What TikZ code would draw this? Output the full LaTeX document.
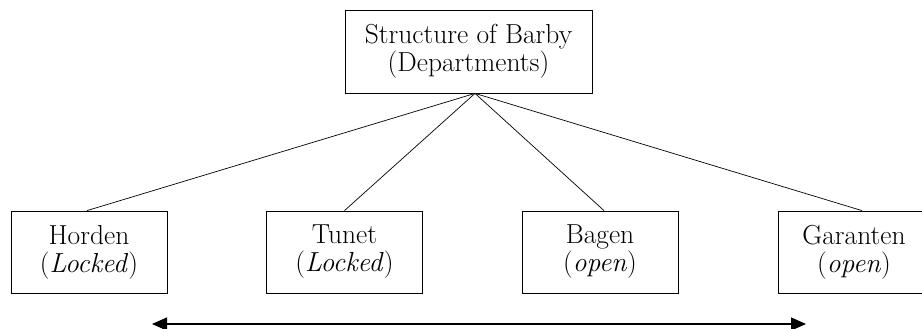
\documentclass[tikz,border=0pt]{standalone}
\usetikzlibrary{calc,arrows.meta}
\begin{document}
\begin{tikzpicture}[x=1pt,y=-1pt,
  box/.style={draw,line width=0.8pt,minimum height=82pt,inner sep=0pt,align=center,
    font=\fontsize{27.5}{28}\selectfont},
  bbox/.style={box,minimum width=156pt},
  link/.style={line width=0.7pt}]
\useasboundingbox (0,0) rectangle (922,329);
\node[box,minimum width=247pt,minimum height=83pt] (top) at (468.5,51.5) {Structure of Barby\\(Departments)};
\node[bbox] (h) at (89,252) {Horden\\(\textit{Locked})};
\node[bbox] (t) at (344.5,252) {Tunet\\(\textit{Locked})};
\node[bbox] (b) at (600,252) {Bagen\\(\textit{open})};
\node[bbox,minimum width=170pt] (g) at (863,252) {\hspace*{-18pt}Garanten\\\hspace*{-18pt}(\textit{open})};
\coordinate (apex) at ($(top.south)+(6.5,0)$);
\draw[link] (apex) -- ($(h.north)+(-2,0)$);
\draw[link] (apex) -- (t.north);
\draw[link] (apex) -- ($(b.north)+(4,0)$);
\draw[link] (apex) -- ($(g.north)+(-1,0)$);
\coordinate (al) at (152,324);
\coordinate (ar) at (806,324);
\draw[line width=1.2pt,{Triangle[length=15pt,width=13pt]}-{Triangle[length=15pt,width=13pt]}] (al) -- (ar);
\end{tikzpicture}
\end{document}
